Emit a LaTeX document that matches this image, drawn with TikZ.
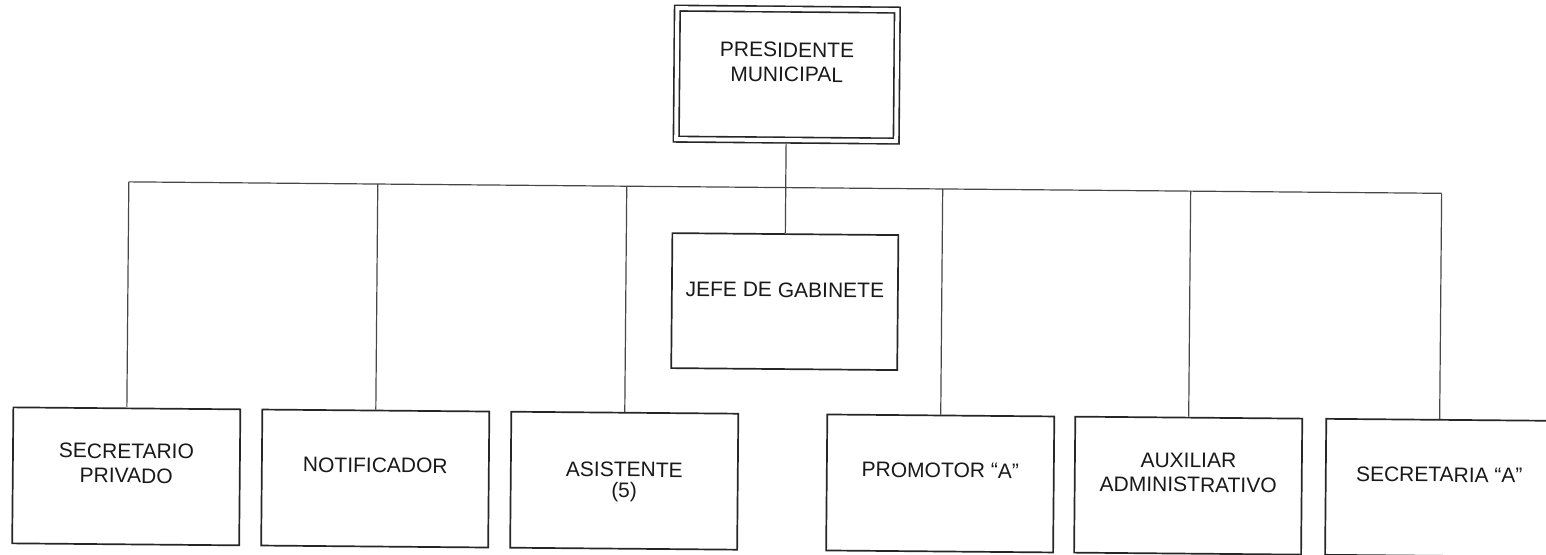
\documentclass[tikz,border=0pt]{standalone}
\usepackage{fontspec}
\setmainfont{Liberation Sans}
\begin{document}
\begin{tikzpicture}[x=0.5pt,y=-0.5pt,
  unit/.style={draw=black!85, line width=0.85pt, fill=white, minimum width=113.5pt, minimum height=68pt, inner sep=0pt},
  chief/.style={draw=black!85, line width=0.8pt, double=white, double distance=2pt, minimum width=110pt, minimum height=65.5pt, inner sep=0pt},
  lbl/.style={font=\fontsize{10.5pt}{12.25pt}\selectfont, align=center, text=black!90, inner sep=0pt, anchor=north},
  tight/.style={font=\fontsize{10.5pt}{10.35pt}\selectfont},
  link/.style={draw=black!72, line width=0.6pt}]
\useasboundingbox (0,0) rectangle (1546,555);
\begin{scope}[rotate around={-0.5:(773,277.5)}, transform shape]
  % boxes
  \node[chief] (pm) at (785,74.5) {};
  \node[unit, minimum width=113pt, minimum height=67.5pt] (jg) at (785,301.5) {};
  \node[unit] (sp) at (128,482) {};
  \node[unit] (nt) at (377,482) {};
  \node[unit] (as) at (626,482) {};
  \node[unit] (pr) at (942,482) {};
  \node[unit] (ax) at (1190,482) {};
  \node[unit] (sa) at (1441,482) {};
  % labels
  \node[lbl] (tpm) at (785,42) {PRESIDENTE\\MUNICIPAL};
  \node[lbl] (tjg) at (785,282) {JEFE DE GABINETE};
  \node[lbl] (tsp) at (128,449) {SECRETARIO\\PRIVADO};
  \node[lbl] (tnt) at (377,461) {NOTIFICADOR};
  \node[lbl, tight] (tas) at (626,463) {ASISTENTE\\(5)};
  \node[lbl] (tpr) at (942,461) {PROMOTOR “A”};
  \node[lbl] (tax) at (1190,449) {AUXILIAR\\ADMINISTRATIVO};
  \node[lbl] (tsa) at (1441,461) {SECRETARIA “A”};
  % junctions on the horizontal bar
  \coordinate (j1) at (128,187.5);
  \coordinate (j2) at (377,187.5);
  \coordinate (j3) at (626,187.5);
  \coordinate (j4) at (942,187.5);
  \coordinate (j5) at (1190,187.5);
  \coordinate (j6) at (1441,187.5);
  % connectors
  \draw[link] (j1) -- (j6);
  \draw[link, shorten <=1.4pt] (pm.south) -- (jg.north);
  \draw[link] (j1) -- (sp.north);
  \draw[link] (j2) -- (nt.north);
  \draw[link] (j3) -- (as.north);
  \draw[link] (j4) -- (pr.north);
  \draw[link] (j5) -- (ax.north);
  \draw[link] (j6) -- (sa.north);
\end{scope}
\end{tikzpicture}
\end{document}
